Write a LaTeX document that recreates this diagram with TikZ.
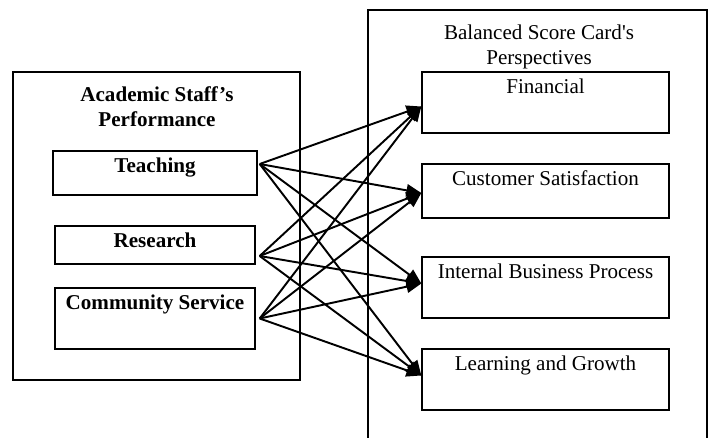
\documentclass[tikz,border=0pt]{standalone}
\usepackage{fontspec}
\setmainfont{Liberation Serif}
\usepackage{tikz}
\usetikzlibrary{calc,arrows.meta,positioning}

\begin{document}
\begin{tikzpicture}[x=0.02cm,y=-0.02cm]

\tikzset{perfbox/.style={draw,line width=0.8pt,font=\bfseries,inner xsep=0pt,inner ysep=3pt,text height=9pt,anchor=center},
bscbox/.style={draw,line width=0.8pt,inner xsep=0pt,inner ysep=3pt,text height=9pt,minimum width=4.94cm,anchor=center},
link/.style={line width=1.1pt,-{Triangle[length=8.5pt,width=7pt]}}}

\useasboundingbox (0,0) rectangle (715,438);
\fontsize{12}{14.4}\selectfont

% Outer frames
\draw[line width=0.8pt] (13,72) rectangle (300,380);
\draw[line width=0.8pt] (368,445) -- (368,10) -- (707,10) -- (707,445);
\node[align=center,font=\bfseries] (perfTitle) at (157,107) {Academic Staff’s\\Performance};
\node[align=center] (bscTitle) at (539,47) {Balanced Score Card\textquotesingle s\\Perspectives};

% Performance boxes
\node[perfbox,minimum width=4.08cm,text depth=10pt] (teach) at (155,173) {Teaching};
\node[perfbox,minimum width=4cm,text depth=6.6pt] (res) at (155,245) {Research};
\node[perfbox,minimum width=4cm,text depth=19.7pt] (comm) at (155,318.5) {Community Service};

% Perspective boxes
\node[bscbox,text depth=19.7pt] (fin) at (545.5,102.5) {Financial};
\node[bscbox,text depth=15.7pt] (cust) at (545.5,191) {Customer Satisfaction};
\node[bscbox,text depth=19.7pt] (ibp) at (545.5,287.5) {Internal Business Process};
\node[bscbox,text depth=19.7pt] (lag) at (545.5,379.5) {Learning and Growth};

% Connector ends
\coordinate (teachOut) at ($(teach.east)+(2,-9)$);
\coordinate (resOut) at ($(res.east)+(4,11)$);
\coordinate (commOut) at ($(comm.east)+(4,0)$);
\coordinate (finIn) at ($(fin.west)+(0,4)$);
\coordinate (custIn) at ($(cust.west)+(0,2)$);
\coordinate (ibpIn) at ($(ibp.west)+(0,-4)$);
\coordinate (lagIn) at ($(lag.west)+(0,-4)$);

% Links
\foreach \s in {teach,res,comm} \foreach \t in {fin,cust,ibp,lag} \draw[link] (\s Out) -- (\t In);

\end{tikzpicture}
\end{document}
